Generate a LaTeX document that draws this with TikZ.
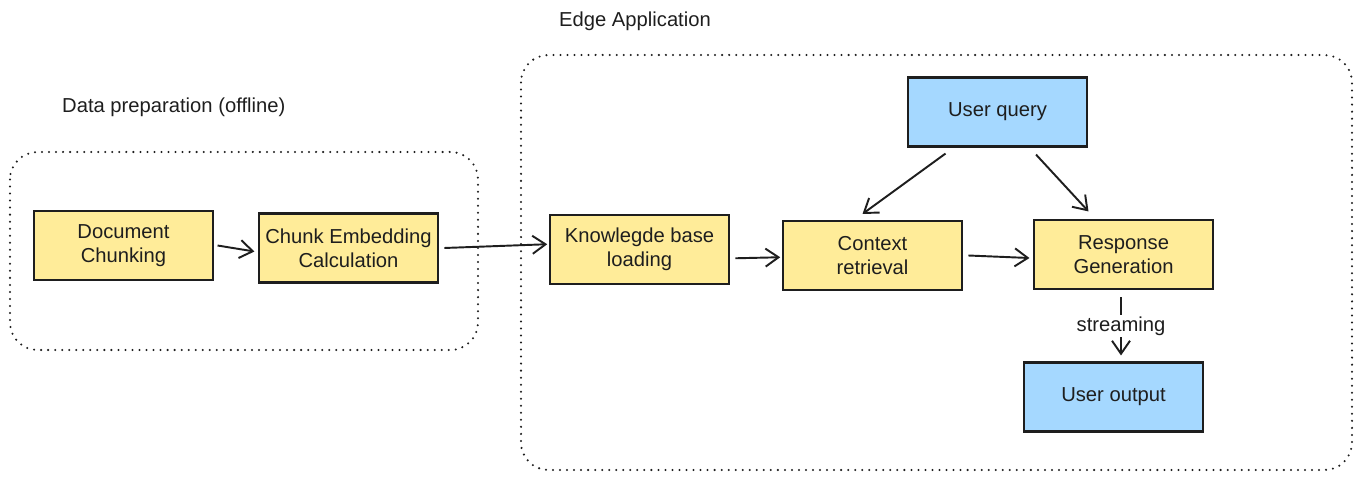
\documentclass[tikz,border=0pt]{standalone}
\usepackage{fontspec}
\setmainfont{Liberation Sans}
\usetikzlibrary{arrows.meta}
\definecolor{boxyellow}{HTML}{FFEC99}
\definecolor{boxblue}{HTML}{A5D8FF}
\definecolor{ink}{HTML}{1E1E1E}
\begin{document}
\begin{tikzpicture}[x = 0.02cm, y = -0.02cm,
    every node/.style = {font = \fontsize{11.5}{13.5}\selectfont, text = ink},
    stepbox/.style = {draw = ink, line width = 1.2pt, fill = boxyellow, minimum width = 3.58cm, minimum height = 1.38cm, align = center},
    userbox/.style = {stepbox, fill = boxblue},
    area/.style = {draw = ink, line width = 1.3pt, line cap = round, dash pattern = on 0pt off 4pt, rounded corners = 0.55cm},
    link/.style = {draw = ink, line width = 1.1pt, -{Straight Barb[length = 2.6mm, width = 3.6mm]}}]
    \useasboundingbox (0, 0) rectangle (1362, 479);
    % areas
    \draw[area] (10, 152) rectangle (478, 350);
    \draw[area] (521, 55) rectangle (1352, 470);
    \node[anchor = west] (prep) at (56, 107) {Data preparation (offline)};
    \node[anchor = west] (edge) at (553, 21) {Edge Application};
    % boxes
    \node[stepbox] (doc) at (123.5, 245.5) {Document\\Chunking};
    \node[stepbox] (emb) at (348.5, 248) {Chunk Embedding\\Calculation};
    \node[stepbox] (kb) at (639.5, 249.5) {Knowlegde base\\loading};
    \node[stepbox] (ctx) at (872.5, 255.5) {Context\\retrieval};
    \node[stepbox] (gen) at (1123.5, 254.5) {Response\\Generation};
    \node[userbox] (query) at (997.5, 112) {User query};
    \node[userbox] (out) at (1113.5, 397) {User output};
    % arrows
    \draw[link] ([xshift = 2pt]doc.east) -- ([xshift = -2pt, yshift = -2pt]emb.west);
    \draw[link] ([xshift = 3pt]emb.east) -- ([xshift = -1pt, yshift = 3pt]kb.west);
    \draw[link] ([xshift = 3pt, yshift = -5pt]kb.east) -- ([xshift = -1pt, yshift = -1pt]ctx.west);
    \draw[link] ([xshift = 3pt]ctx.east) -- ([xshift = -2pt, yshift = -2pt]gen.west);
    \draw[link] ([xshift = -1.04cm, yshift = -0.12cm]query.south) -- ([xshift = -0.2cm, yshift = 0.12cm]ctx.north);
    \draw[link] ([xshift = 0.77cm, yshift = -0.14cm]query.south) -- ([xshift = -0.7cm, yshift = 0.15cm]gen.north);
    \draw[link] ([xshift = -0.05cm, yshift = -0.14cm]gen.south) -- node[fill = white, inner sep = 1pt] (stream) {streaming} ([xshift = 0.15cm, yshift = 0.12cm]out.north);
\end{tikzpicture}
\end{document}
